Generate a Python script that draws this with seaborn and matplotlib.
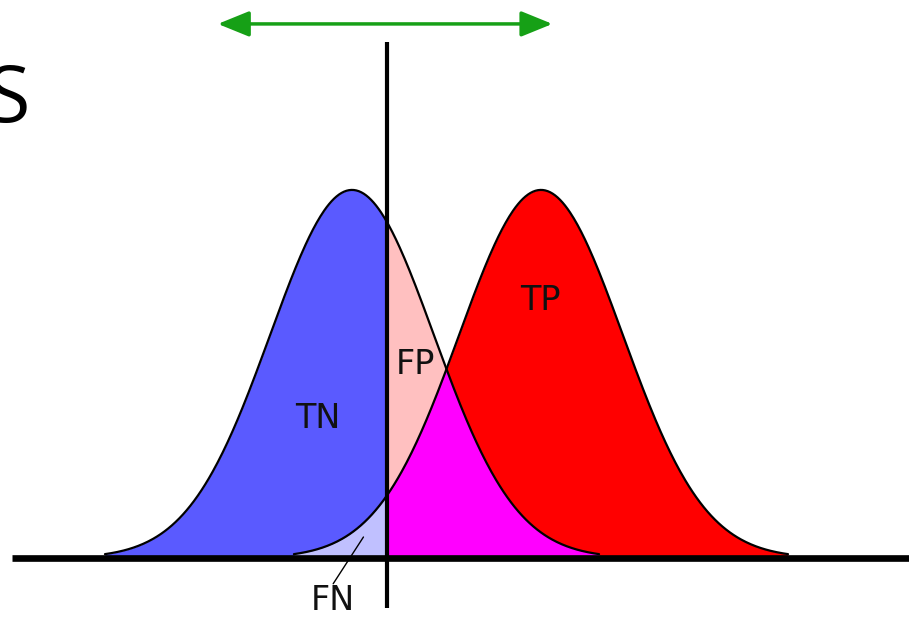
import numpy as np
import pandas as pd
import matplotlib
import matplotlib.pyplot as plt
import seaborn as sns

matplotlib.use('agg')

# distribution parameters (score axis in units of sigma)
neg_mean = 0.0
pos_mean = 2.31
sigma = 1.0
cutoff = 3.02          # curves are drawn out to +/- this many sigma
threshold = 0.43
arrow_span = [-1.64, 2.45]
labels = ["TN", "FP", "TP", "FN"]
label_x = [-0.42, 0.78, 2.30, -0.23]
label_y = [0.38, 0.525, 0.70, -0.115]

sns.set_theme(style="white")
plt.rcParams['font.family'] = ['DejaVu Sans']

fig = plt.figure(figsize=(9.09, 6.2), dpi=100)
ax = fig.add_axes([0, 0, 1, 1])
ax.set_xlim(-4.303, 6.809)
ax.set_ylim(-0.1685, 1.516)
ax.axis("off")


def curve(mean):
    x = np.linspace(mean - cutoff * sigma, mean + cutoff * sigma, 400)
    return pd.DataFrame({"x": x, "y": np.exp(-0.5 * ((x - mean) / sigma) ** 2)})


xs = np.linspace(-4.5, 7.0, 3000)
neg = np.where(np.abs(xs - neg_mean) <= cutoff * sigma,
               np.exp(-0.5 * ((xs - neg_mean) / sigma) ** 2), 0)
pos = np.where(np.abs(xs - pos_mean) <= cutoff * sigma,
               np.exp(-0.5 * ((xs - pos_mean) / sigma) ** 2), 0)
left = xs <= threshold
right = xs >= threshold
both = np.minimum(neg, pos)

ax.fill_between(xs, 0, neg, where=left, color="#5a5aff", lw=0)
ax.fill_between(xs, 0, pos, where=left, color="#c0c0ff", lw=0)
ax.fill_between(xs, 0, neg, where=right, color="#ffc0c0", lw=0)
ax.fill_between(xs, 0, pos, where=right, color="#ff0000", lw=0)
ax.fill_between(xs, 0, both, where=right, color="#ff00ff", lw=0)

sns.lineplot(data=curve(neg_mean), x="x", y="y", ax=ax, color="black", lw=1.6, sort=False)
sns.lineplot(data=curve(pos_mean), x="x", y="y", ax=ax, color="black", lw=1.6, sort=False)

# baseline and threshold
ax.plot([-4.156, 7.0], [0, 0], color="black", lw=4.8, solid_capstyle="butt")
ax.plot([threshold, threshold], [-0.136, 1.402], color="black", lw=3, solid_capstyle="butt")

# threshold range arrow
ax.annotate("", xy=(arrow_span[1], 1.451), xytext=(arrow_span[0], 1.451),
            arrowprops=dict(arrowstyle="<|-|>,head_length=1.6,head_width=0.65",
                            color="#16a016", lw=2.5, shrinkA=0, shrinkB=0))

for lab, lx, ly in zip(labels, label_x, label_y):
    ax.text(lx, ly, lab, fontsize=24, ha="center", va="center", color="#111111")

# FN leader line
ax.plot([-0.23, 0.14], [-0.07, 0.057], color="black", lw=1)

fig.text(-13 / 909, (620 - 122) / 620, "S", fontsize=57, family="Open Sans",
         ha="left", va="baseline", color="black")

plt.savefig("out.png", dpi=100)
plt.close()
